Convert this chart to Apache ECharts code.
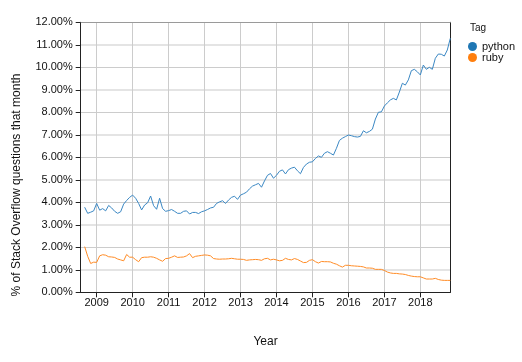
<!DOCTYPE html>
<html>
<head>
<meta charset="utf-8">
<script src="https://cdn.jsdelivr.net/npm/echarts@6/dist/echarts.min.js"></script>
<style>
html,body{margin:0;padding:0;background:#fff;}
#chart{width:522px;height:362px;}
</style>
</head>
<body>
<div id="chart"></div>
<script>
// Monthly data, first month = Sep 2008, last = Nov 2018
var START_YEAR = 2008, START_MONTH = 9;
var yearTicks = [2009, 2010, 2011, 2012, 2013, 2014, 2015, 2016, 2017, 2018];
var seriesNames = ['python', 'ruby'];

var python = [
3.78,3.51,3.56,3.62,3.95,3.65,3.72,3.62,3.86,3.75,3.60,3.51,
3.58,3.92,4.08,4.22,4.32,4.18,3.95,3.66,3.88,3.98,4.28,3.85,
3.69,4.18,3.72,3.60,3.63,3.68,3.60,3.51,3.51,3.60,3.62,3.48,
3.55,3.55,3.50,3.58,3.62,3.68,3.75,3.78,3.95,4.02,4.07,3.95,
4.10,4.22,4.27,4.13,4.32,4.38,4.45,4.60,4.72,4.78,4.84,4.67,
4.95,5.20,5.28,5.07,5.20,5.38,5.44,5.26,5.45,5.52,5.56,5.40,
5.27,5.55,5.70,5.78,5.80,5.95,6.06,6.00,6.18,6.25,6.18,6.10,
6.40,6.75,6.85,6.92,6.99,6.96,6.92,6.90,6.93,7.18,7.09,7.15,
7.25,7.70,8.00,8.02,8.28,8.42,8.55,8.62,8.55,8.90,9.29,9.21,
9.44,9.85,9.91,9.80,9.66,10.10,9.91,10.00,9.91,10.40,10.59,10.58,
10.50,10.77,11.29
];
var ruby = [
2.03,1.60,1.28,1.34,1.33,1.62,1.67,1.65,1.58,1.57,1.55,1.48,
1.44,1.40,1.68,1.56,1.56,1.45,1.36,1.54,1.56,1.56,1.58,1.56,
1.51,1.44,1.38,1.50,1.51,1.56,1.62,1.55,1.56,1.57,1.62,1.72,
1.54,1.60,1.62,1.64,1.66,1.65,1.62,1.50,1.48,1.47,1.48,1.48,
1.49,1.51,1.49,1.47,1.47,1.46,1.42,1.44,1.45,1.46,1.45,1.42,
1.49,1.51,1.44,1.47,1.44,1.40,1.42,1.51,1.46,1.44,1.50,1.46,
1.39,1.32,1.33,1.42,1.45,1.36,1.30,1.37,1.36,1.36,1.35,1.29,
1.25,1.18,1.12,1.20,1.20,1.18,1.17,1.16,1.15,1.13,1.08,1.08,
1.07,1.02,1.02,1.02,0.97,0.90,0.86,0.84,0.84,0.82,0.81,0.79,
0.75,0.72,0.70,0.69,0.69,0.64,0.59,0.59,0.59,0.62,0.57,0.54,
0.53,0.53,0.53
];

// month positions expressed as fractional years
function monthPos(i){ return START_YEAR + (START_MONTH - 1 + i) / 12; }
function toPairs(arr){ return arr.map(function(v,i){ return [monthPos(i), v]; }); }

var FONT = "'Liberation Sans', Arial, sans-serif";
var chart = echarts.init(document.getElementById('chart'), null, {renderer:'canvas'});
chart.setOption({
  animation: false,
  backgroundColor: '#fff',
  textStyle: {fontFamily: FONT},
  title: {
    text: 'Tag', left: 465, top: 18,
    textStyle: {fontFamily: FONT, fontSize: 10, fontWeight: 'normal', color: '#111'}
  },
  legend: {
    data: seriesNames,
    orient: 'vertical', left: 463, top: 36,
    icon: 'circle', itemWidth: 9, itemHeight: 9, itemGap: 0,
    textStyle: {fontFamily: FONT, fontSize: 11, color: '#111'}
  },
  grid: {left: 80.7, right: 71.7, top: 22.3, bottom: 69.7, containLabel: false},
  xAxis: [{
    type: 'value', min: 2008.556, max: 2018.833, minInterval: 1, maxInterval: 1,
    name: 'Year', nameLocation: 'middle', nameGap: 43,
    nameTextStyle: {fontFamily: FONT, fontSize: 12, color: '#111'},
    axisLine: {show: true, lineStyle: {color: '#222', width: 1}},
    axisTick: {show: true, length: 5, lineStyle: {color: '#222'}},
    axisLabel: {
      margin: 5, fontFamily: FONT, fontSize: 11, color: '#111',
      showMinLabel: false, showMaxLabel: false,
      formatter: function(v){ return yearTicks.indexOf(Math.round(v)) >= 0 && Math.abs(v - Math.round(v)) < 1e-6 ? String(Math.round(v)) : ''; }
    },
    splitLine: {show: true, lineStyle: {color: '#cccccc', width: 1}}
  }, {
    type: 'value', position: 'top', min: 2008.556, max: 2018.833,
    axisLine: {show: true, onZero: false, lineStyle: {color: '#9a9a9a', width: 1}},
    axisTick: {show: false}, axisLabel: {show: false}, splitLine: {show: false}
  }],
  yAxis: [{
    type: 'value', min: 0, max: 12, interval: 1,
    axisLine: {show: true, lineStyle: {color: '#222', width: 1}},
    axisTick: {show: true, length: 5, lineStyle: {color: '#222'}},
    axisLabel: {
      margin: 8, fontFamily: FONT, fontSize: 11, color: '#111',
      formatter: function(v){ return v.toFixed(2) + '%'; }
    },
    splitLine: {show: true, lineStyle: {color: ['#cccccc', 'rgba(0,0,0,0)'], width: 1}}
  }, {
    type: 'value', position: 'right', min: 0, max: 12, interval: 1,
    axisLine: {show: true, onZero: false, lineStyle: {color: '#222', width: 1}},
    axisTick: {show: false}, axisLabel: {show: false},
    splitLine: {show: true, lineStyle: {color: ['rgba(0,0,0,0)', '#e4e4e4'], width: 2}}
  }],
  graphic: [{
    type: 'text', x: 17, y: 185, rotation: Math.PI / 2,
    style: {
      text: '% of Stack Overflow questions that month',
      x: 0, y: 0, align: 'center', verticalAlign: 'middle',
      font: '12px ' + FONT, fill: '#111'
    }
  }],
  series: [{
    name: 'python', type: 'line', data: toPairs(python),
    showSymbol: false, symbol: 'circle', color: '#1f77b4',
    lineStyle: {width: 1, color: '#3b88c4'}
  }, {
    name: 'ruby', type: 'line', data: toPairs(ruby),
    showSymbol: false, symbol: 'circle', color: '#ff7f0e',
    lineStyle: {width: 1, color: '#ff8c26'}
  }]
});
</script>
</body>
</html>
